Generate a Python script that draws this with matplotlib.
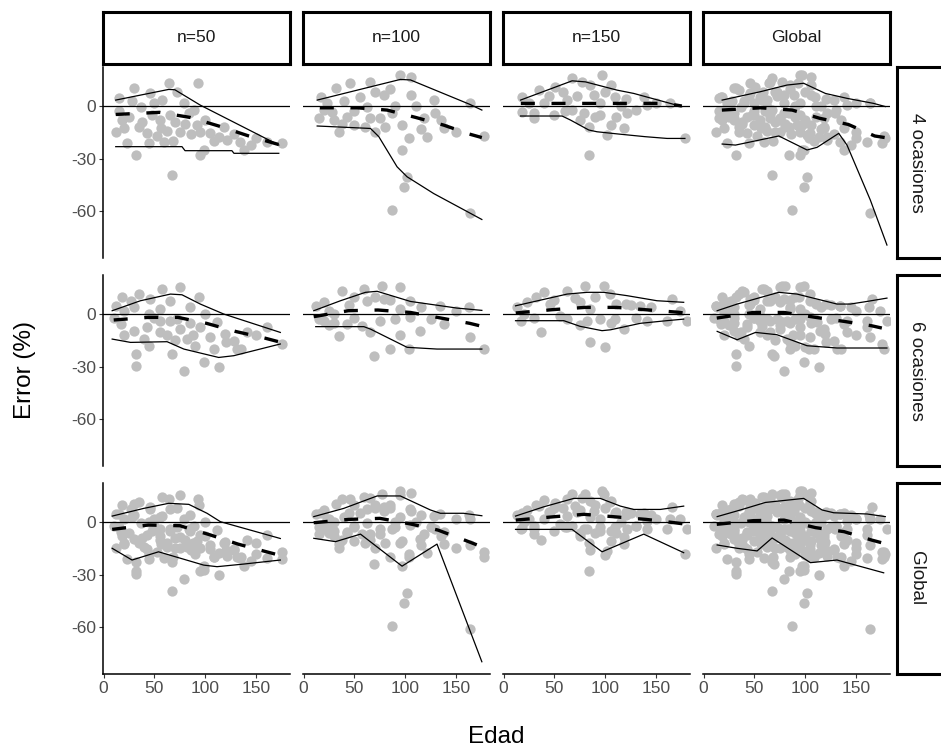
import matplotlib
matplotlib.use("Agg")
import matplotlib.pyplot as plt

plt.rcParams['font.family'] = ['Liberation Sans', 'DejaVu Sans']

# Facet labels
columnas = ["n=50", "n=100", "n=150", "Global"]
filas = ["4 ocasiones", "6 ocasiones", "Global"]

# Points (edad, error), per base panel
pts_4oc_n50 = [(29.7, 10.1), (64, 13), (92.8, 13), (15, 4.4), (46, 7.2), (72, 8.2), (57.5, 3.4),
               (55, -8), (11.8, -14.7), (20, -12.8), (23, -21.3), (31.4, -28), (42.8, -15.6),
               (44.4, -21.3), (56, -12.8), (59, -20.4), (67.3, -39.4), (75.5, -14.7), (65.7, -5.2),
               (83.7, -4.2), (91.8, -10.9), (95, -14.7), (98.3, -25.1), (95, -28), (104.9, -15.6),
               (113, -17.5), (121, -19.4), (137.6, -25.1), (134.3, -20.4), (160.5, -20.4),
               (175, -21.3), (36.3, -0.3), (49.3, 1.7), (78.8, 1.7), (88.6, -2.3), (25, -6),
               (38, -9), (70, -9), (15, -3), (35, -12), (48, -5), (62, -14), (68, -20), (80, -10),
               (86, -16), (100, -8), (108, -20), (118, -12), (128, -16), (145, -22), (150, -18),
               (28, 3), (52, -17), (18, -8)]
pts_4oc_n100 = [(16.7, 5.3), (31.4, 10.1), (46, 13), (65.7, 14), (95, 17.7), (105, 16.8), (78.8, 6.3),
                (105, 6.3), (127.8, 3.4), (163.7, 1.5), (15, -7), (28, -3.2), (42.8, -6.1),
                (34.7, -14.7), (49.3, -10.9), (60.8, -11.8), (75.5, -7), (70.6, -14.7), (87, -4.2),
                (96.7, -10.9), (103.3, -18.5), (96.7, -25.1), (101.6, -40.4), (98.3, -46.1),
                (87, -59.4), (121.2, -17.5), (118, -7), (129.4, -4.2), (137.6, -12.8),
                (163.7, -61.3), (176.8, -17.1), (62.4, -0.3), (23, 1.7), (55, 5), (20, -2),
                (40, 3), (70, 8), (85, 10), (110, 0), (135, -8), (150, -15), (38, -10), (50, -3),
                (65, -7), (80, -12), (30, -8), (90, 0), (115, -13)]
pts_4oc_n150 = [(18.3, 5.3), (34.7, 9.1), (51, 11), (67.3, 15.8), (96.7, 17.7), (77, 14), (105, 12),
                (88.6, 6.3), (109.8, 5.3), (137.6, 5.3), (163.7, 1.5), (18.3, -3.2), (29.7, -7),
                (49.3, -5.1), (67.3, -2.3), (78.8, -4.2), (121.2, -4.2), (83.7, -11.8),
                (101.6, -16.6), (105, -10.9), (118, -12.8), (83.7, -28), (178.4, -18.5),
                (140.8, 0.6), (62.4, 3.4), (95, 1.5), (40, 2), (120, 4), (90, -6),
                (25, 2), (45, 6), (58, 8), (72, 6), (85, 12), (100, 8), (115, 0), (130, -2),
                (150, 2), (60, -3), (75, -8), (95, -5), (110, -6), (30, -4)]
pts_6oc_n50 = [(11.8, 4.7), (34.7, 11.4), (57.5, 14.3), (75.5, 15.2), (93.5, 9.5), (26.5, 7.6),
               (46, 8.5), (65.7, 7.6), (16.7, -5.7), (29.7, -9.5), (42.8, -7.6), (55.9, -10.5),
               (75.5, -8.6), (82, -14.3), (104.9, -13.3), (95, -7.6), (31.4, -22.9), (31.4, -29.5),
               (67.3, -22.9), (78.8, -32.4), (98.3, -27.6), (113, -30.5), (119.6, -11.4),
               (127.8, -15.2), (131, -20), (140.8, -10.5), (160.5, -7.6), (175, -17.1),
               (111.4, -4.8), (85, 3.8), (10.1, -2), (20, 2), (50, -2), (65, -4), (40, -14),
               (90, -18), (18, 10), (30, 4), (45, 0), (55, 3), (62, -12), (72, -3), (85, -5),
               (100, 0), (108, -20), (120, -16), (135, -20), (150, -12), (20, -12), (45, -18),
               (70, -15), (88, -12), (55, -4)]
pts_6oc_n100 = [(11.8, 4.7), (20, 6.7), (37.9, 13.3), (59.2, 14.3), (77.1, 16.2), (95, 15.2),
                (78.8, 8.5), (62.4, 7.6), (104.9, 7.6), (134.3, 4.7), (162, 3.8), (15, -2.9),
                (34.7, -12.4), (42.8, -5.7), (57.5, -6.7), (75.5, -3.8), (90.2, -2.9),
                (104.9, -1.9), (114.7, -9.5), (137.6, -5.7), (69, -23.8), (85.3, -20),
                (103.3, -20), (163.7, -13.3), (176.8, -20), (29.7, 0), (45, 5), (25, -6),
                (25, 2), (50, 10), (70, 10), (85, 8), (95, 3), (115, 4), (125, -3), (150, 2),
                (30, -5), (50, -2), (65, -10), (95, -12), (20, -4)]
pts_6oc_n150 = [(13.4, 3.8), (23, 6.7), (31.4, 9.5), (39.5, 12.4), (62.4, 13.3), (80.4, 16.2),
                (98.3, 16.2), (104.9, 11.4), (134.3, 4.7), (165.3, 8.5), (75.5, 6.7), (46, 5.7),
                (85.3, 2.9), (16.7, -3.8), (36.3, -10.5), (62.4, -2.9), (82, -3.8), (95, -2.9),
                (109.8, -2.9), (118, -8.6), (140.8, -3.8), (85.3, -16.2), (100, -19), (180, -3.8),
                (173.5, 1.9), (30, -2), (120, 6), (20, 0), (50, 8), (70, 9), (90, 10), (110, 6),
                (125, 5), (145, 4), (55, -1), (75, -6), (105, -5), (130, -2), (160, -4)]

# Summary lines (upper, median, lower) per panel: row 4 ocasiones
sup_4oc = [[(12, 3.4), (64, 9.5), (70, 9.3), (95, 0.5), (172, -22.3)],
           [(13.4, 3.4), (95, 15.2), (105, 14.9), (163, 1), (175, -2.3)],
           [(16.7, 3.4), (67.3, 14.4), (80.4, 13.8), (111.4, 9.1), (127.8, 7.2), (175, -0.3)],
           [(18.3, 3.4), (55.9, 8.2), (82, 12), (98.3, 13), (119.6, 7.2), (140.8, 4.4), (167, 1.5), (178.4, -0.3)]]
med_4oc = [[(12, -4.8), (55, -3.6), (85, -6.5), (113, -11.4), (142, -17), (172, -22)],
           [(16, -1), (52.6, -1), (82, -2.3), (110, -6.5), (137.6, -10.9), (162.7, -16), (175, -18)],
           [(17, 1.5), (160, 1.5), (175, 0)],
           [(18, -2.3), (56, -1), (87, -2.3), (114, -7), (142, -10.5), (168, -17.1), (178, -18)]]
inf_4oc = [[(12, -23.2), (77, -23.2), (80, -25.5), (126, -25.5), (128, -27), (172, -27)],
           [(13.4, -11.4), (65.7, -12.8), (73.9, -17.5), (91.8, -34.7), (101.6, -40.4), (127.8, -50), (175, -64.8)],
           [(16.7, -5.7), (57.5, -5.7), (65.7, -8), (83.7, -13.7), (91.8, -14.7), (113, -16), (139, -17.5), (160.5, -18.5), (178, -18.5)],
           [(18.3, -21.7), (31.4, -22.3), (62.4, -18.5), (73.9, -17.1), (101.6, -25.1), (111.4, -23.6), (132.7, -15.6), (140.8, -22.3), (163.7, -53.7), (180, -79.4)]]

# row 6 ocasiones
sup_6oc = [[(8.5, 1.9), (36.3, 7.6), (65.7, 11.4), (77, 11), (95, 5.7), (118, 0), (173.5, -10.5)],
           [(10.1, 1.9), (36.3, 7.6), (60.8, 12.4), (72.2, 13), (104.9, 7.2), (127.8, 5.3), (150.6, 3.4), (175, 2.1)],
           [(11.8, 4.7), (62.4, 11.4), (82, 12.4), (98.3, 12.4), (121.2, 10.5), (150.6, 7.6), (176.8, 6.7)],
           [(13.4, 1.9), (33, 5.7), (73.9, 12.4), (91.8, 11.4), (118, 7.6), (131, 5.7), (144, 5.7), (160.5, 7.2), (180, 9.1)]]
med_6oc = [[(10, -3.4), (44, -1.9), (73, -1.9), (101, -5.3), (130, -10), (158, -13.7), (173, -16)],
           [(10, -1.5), (44, 1.9), (73, 2.3), (105, 0.9), (135, -2.3), (163, -5.3), (175, -7)],
           [(12, 0.6), (48, 2.5), (80, 3.8), (111, 3.8), (143, 2.3), (172, 1), (178, 0.5)],
           [(13, -2.3), (49, 0.9), (79, 0.9), (110, -1.9), (138, -4.2), (165, -6.7), (175, -8)]]
inf_6oc = [[(8.5, -14.3), (26.5, -16.2), (62.4, -15.8), (78.8, -20), (113, -24.8), (127.8, -23.8), (173.5, -17.1)],
           [(12, -7.2), (59.2, -7.2), (65.7, -8.6), (101.6, -19), (131, -20), (175, -20)],
           [(11.8, -3.8), (59.2, -3.8), (75, -7), (96.7, -9.5), (105, -9), (134.3, -5.3), (160, -3.8), (176.8, -2.9)],
           [(13.4, -9.9), (33, -14.7), (51, -10.5), (72, -11.8), (101.6, -18.1), (131, -19.4), (180, -19.4)]]

# row Global
sup_glob = [[(8.5, 3.4), (39.5, 7.8), (64, 10.7), (83.7, 10.1), (101.6, 5), (114.7, 0.2), (173.5, -9.4)],
            [(10.1, 3.1), (39.5, 7.8), (72.2, 14.9), (95, 14.9), (124.5, 6.9), (134.3, 5), (157, 5), (175, 3.6)],
            [(11.8, 3.4), (39.5, 8.7), (69, 13.5), (95, 13.5), (114.7, 9.1), (127.8, 7.2), (154, 7.2), (176.8, 9.1)],
            [(13.4, 3.1), (36.3, 6.9), (60.8, 11.2), (98.3, 13.5), (116.3, 6.9), (127.8, 5.3), (160.5, 4.6), (178.4, 3.1)]]
med_glob = [[(8.5, -4.2), (44, -1.7), (75, -2.1), (105, -7.4), (132, -12.6), (160, -17), (173, -19)],
            [(10, -0.4), (44, 1.5), (75, 2.1), (105, -1.1), (132, -4.6), (158, -10.3), (170, -13)],
            [(12, 1.1), (49, 3), (79, 4.4), (109, 3), (140, 1.5), (168, -0.4), (176, -1)],
            [(13, -1.3), (49, 0.8), (79, 1.1), (110, -3.2), (138, -5.5), (165, -10.3), (176, -12)]]
inf_glob = [[(8.5, -15), (28, -21.7), (54, -17), (98.3, -24.6), (111.4, -25.5), (137.6, -24), (173.5, -21.7)],
            [(10.1, -9.3), (31.4, -11.2), (55.9, -6.9), (96.7, -25.2), (131, -12.6), (175, -79.8)],
            [(11.8, -4.2), (67.3, -4.2), (96.7, -17), (137.6, -6.9), (176.8, -17.5)],
            [(13.4, -13.1), (33, -15), (52.6, -16.5), (67.3, -9.1), (104.9, -23.2), (131, -21.7), (176.8, -29)]]

x_ticks = [0, 50, 100, 150]
y_ticks = [-60, -30, 0]

W, H = 941, 752


def rect(left, top, w, h):
    # pixel box -> figure fraction
    return [left / W, 1 - (top + h) / H, w / W, h / H]


base = [[pts_4oc_n50, pts_4oc_n100, pts_4oc_n150],
        [pts_6oc_n50, pts_6oc_n100, pts_6oc_n150]]
puntos = [[None] * 4 for _ in range(3)]
for r in range(2):
    for c in range(3):
        puntos[r][c] = base[r][c]
    puntos[r][3] = base[r][0] + base[r][1] + base[r][2]
for c in range(4):
    puntos[2][c] = puntos[0][c] + puntos[1][c]

sup = [sup_4oc, sup_6oc, sup_glob]
med = [med_4oc, med_6oc, med_glob]
inf = [inf_4oc, inf_6oc, inf_glob]

fig = plt.figure(figsize=(W / 100, H / 100), dpi=100)

pan_w, pan_h = 187, 191
for r in range(3):
    top = 67 + 208 * r
    for c in range(4):
        left = 103 + 200 * c
        ax = fig.add_axes(rect(left, top, pan_w, pan_h))
        xs = [p[0] for p in puntos[r][c]]
        ys = [p[1] for p in puntos[r][c]]
        ax.scatter(xs, ys, s=55, color='#BEBEBE', linewidths=0, zorder=1)
        ax.axhline(0, color='black', lw=0.9, zorder=2)
        for linea, estilo in ((sup[r][c], 'sol'), (inf[r][c], 'sol'), (med[r][c], 'dash')):
            lx = [p[0] for p in linea]
            ly = [p[1] for p in linea]
            if estilo == 'sol':
                ax.plot(lx, ly, color='black', lw=0.9, zorder=3)
            else:
                ax.plot(lx, ly, color='black', lw=2.4, dashes=(4.2, 5.0), zorder=3)
        ax.set_xlim(-0.5, 183)
        ax.set_ylim(-86.8, 22.3)
        for s in ax.spines.values():
            s.set_visible(False)
        ax.set_xticks(x_ticks)
        ax.set_yticks(y_ticks)
        ax.tick_params(length=3, width=0.8, color='#333333', labelcolor='#4D4D4D',
                       labelsize=12.5, pad=2)
        if c == 0:
            ax.spines['left'].set_visible(True)
            ax.spines['left'].set_linewidth(1.1)
            ax.set_yticklabels([str(v) for v in y_ticks])
        else:
            ax.tick_params(axis='y', left=False, labelleft=False)
        if r == 2:
            ax.spines['bottom'].set_visible(True)
            ax.spines['bottom'].set_linewidth(1.1)
        else:
            ax.tick_params(axis='x', bottom=False, labelbottom=False)

        # top strips
        if r == 0:
            st = fig.add_axes(rect(left, 12, pan_w, 52))
            st.set_xticks([])
            st.set_yticks([])
            for s in st.spines.values():
                s.set_linewidth(2.2)
            st.text(0.5, 0.5, columnas[c], ha='center', va='center', fontsize=12.5,
                    color='#1A1A1A', transform=st.transAxes)
    # right strips
    st = fig.add_axes(rect(897, top, 52, pan_h))
    st.set_xticks([])
    st.set_yticks([])
    for s in st.spines.values():
        s.set_linewidth(2.2)
    st.text(0.37, 0.5, filas[r], ha='center', va='center', rotation=-90, fontsize=13.5,
            color='#1A1A1A', transform=st.transAxes)

fig.text(25 / W, 1 - 370 / H, 'Error (%)', rotation=90, ha='center', va='center', fontsize=17.5)
fig.text(496.5 / W, 1 - 737 / H, 'Edad', ha='center', va='center', fontsize=17.5)

fig.savefig('out.png', dpi=100)
